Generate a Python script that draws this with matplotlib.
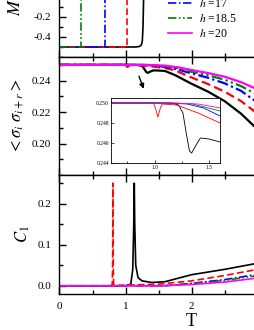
import numpy as np
import matplotlib
matplotlib.use('Agg')
import matplotlib.pyplot as plt
from matplotlib.ticker import MultipleLocator

plt.rcParams['font.family'] = ['Liberation Serif', 'DejaVu Serif']
plt.rcParams['mathtext.fontset'] = 'stix'

# ---- data ----
labels = ['$h$ =15', '$h$ =16', '$h$ =17', '$h$ =18.5', '$h$ =20']
colors = ['black', 'red', 'blue', 'green', 'magenta']
styles = ['-', (0, (4, 2)), (0, (5, 1.5, 1, 1.5)), (0, (5, 1.5, 1, 1.5, 1, 1.5)), '-']

# magnetisation M(T)
m_t = [[0, 1.15, 1.21, 1.24, 1.255, 1.265, 1.275, 1.3, 3.0],
       [0, 1.02, 1.02, 3.0],
       [0, 0.69, 0.69, 3.0],
       [0, 0.326, 0.326, 3.0],
       [0, 3.0]]
m_v = [[-0.5, -0.5, -0.495, -0.48, -0.44, -0.3, 0.0, 0.45, 0.45],
       [-0.5, -0.5, 0.5, 0.5],
       [-0.5, -0.5, 0.5, 0.5],
       [-0.5, -0.5, 0.5, 0.5],
       [0.5, 0.5]]

# nearest-neighbour correlation <s_i s_i+r>
c_t = [[0, 1.15, 1.22, 1.26, 1.29, 1.32, 1.34, 1.37, 1.42, 1.5, 1.6, 1.75, 2.0, 2.25, 2.5, 2.75, 3.0],
       [0, 0.99, 1.01, 1.03, 1.05, 1.07, 1.2, 1.4, 1.6, 1.75, 2.0, 2.25, 2.5, 2.75, 3.0],
       [0, 1.1, 1.3, 1.45, 1.6, 1.8, 2.0, 2.25, 2.5, 2.75, 3.0],
       [0, 1.15, 1.35, 1.6, 1.8, 2.0, 2.25, 2.5, 2.75, 3.0],
       [0, 1.2, 1.4, 1.6, 1.8, 2.0, 2.25, 2.5, 2.75, 3.0]]
c_v = [[0.25, 0.25, 0.2498, 0.2490, 0.2470, 0.2452, 0.2450, 0.2456, 0.2465, 0.2464, 0.2461, 0.2435, 0.2380, 0.2330, 0.2270, 0.2190, 0.2090],
       [0.25, 0.25, 0.2494, 0.2486, 0.2494, 0.2499, 0.2498, 0.2490, 0.2480, 0.2465, 0.2420, 0.2378, 0.2330, 0.2270, 0.2190],
       [0.25, 0.25, 0.2499, 0.2495, 0.2487, 0.2470, 0.2446, 0.2418, 0.2383, 0.2335, 0.2260],
       [0.25, 0.25, 0.2499, 0.2492, 0.2478, 0.2456, 0.2434, 0.2406, 0.2365, 0.2310],
       [0.25, 0.25, 0.2499, 0.2495, 0.2484, 0.2467, 0.2448, 0.2425, 0.2390, 0.2344]]

# specific heat C_1(T)
h_t = [[0, 1.0, 1.08, 1.11, 1.125, 1.133, 1.14, 1.155, 1.19, 1.25, 1.4, 1.6, 2.0, 2.5, 3.0],
       [0, 0.78, 0.80, 0.805, 0.81, 0.815, 0.82, 0.85, 1.5, 2.0, 2.5, 3.0],
       [0, 1.6, 2.0, 2.5, 3.0],
       [0, 1.6, 2.0, 2.5, 3.0],
       [0, 1.5, 2.0, 2.5, 3.0]]
h_v = [[0, 0, 0.004, 0.04, 0.15, 0.25, 0.15, 0.05, 0.02, 0.012, 0.008, 0.010, 0.027, 0.040, 0.055],
       [0, 0, 0.004, 0.05, 0.25, 0.05, 0.004, 0.001, 0.004, 0.012, 0.025, 0.040],
       [0, 0, 0.006, 0.015, 0.028],
       [0, 0, 0.005, 0.013, 0.025],
       [0, 0, 0.003, 0.009, 0.019]]

W, H = 255, 330
fig = plt.figure(figsize=(W / 100, H / 100), dpi=100)

def box(left, top, right, bottom):
    return [left / W, 1 - bottom / H, (right - left) / W, (bottom - top) / H]

ax1 = fig.add_axes(box(59.5, -43, 323.5, 57))
ax2 = fig.add_axes(box(59.5, 57, 323.5, 175))
ax3 = fig.add_axes(box(59.5, 175, 323.5, 294))

for i in range(5):
    ax1.plot(m_t[i], m_v[i], color=colors[i], ls=styles[i], lw=1.2, label=labels[i])
    ax2.plot(c_t[i], c_v[i], color=colors[i], ls=styles[i], lw=1.6)
    ax3.plot(h_t[i], h_v[i], color=colors[i], ls=styles[i], lw=1.2)

ax1.set_ylim(-0.6, 0.4)
ax1.set_yticks([-0.4, -0.2, 0.0, 0.2])
ax1.yaxis.set_minor_locator(MultipleLocator(0.1))
ax1.set_ylabel('$M$', fontsize=13, labelpad=7)
ax1.legend(loc='lower left', bbox_to_anchor=(168 / W, 1 - 40 / H), bbox_transform=fig.transFigure,
           frameon=False, fontsize=8.5, handlelength=2.0, handletextpad=0.6,
           labelspacing=0.25, borderpad=0, borderaxespad=0)

ax2.set_ylim(0.18, 0.255)
ax2.set_yticks([0.20, 0.22, 0.24])
ax2.yaxis.set_minor_locator(MultipleLocator(0.01))
ax2.set_ylabel(r'$<\sigma_i\ \sigma_{i+r}>$', fontsize=12)
ax2.annotate('', xy=(1.29, 0.2331), xytext=(1.19, 0.2444),
             arrowprops=dict(arrowstyle='-|>', color='black', lw=1.0, mutation_scale=7))

ax3.set_ylim(-0.02, 0.27)
ax3.set_yticks([0.0, 0.1, 0.2])
ax3.yaxis.set_minor_locator(MultipleLocator(0.05))
ax3.set_ylabel('$C_1$', fontsize=12)
ax3.set_xlabel('T', fontsize=13, labelpad=1)

for ax in (ax1, ax2, ax3):
    ax.set_xlim(0, 4)
    ax.set_xticks([0, 1, 2, 3, 4])
    ax.xaxis.set_minor_locator(MultipleLocator(0.5))
    ax.tick_params(which='both', direction='in', top=True, right=True, labelsize=8, pad=6, width=1.0)
    ax.tick_params(which='major', length=5)
    ax.tick_params(which='minor', length=3)
    for s in ax.spines.values():
        s.set_linewidth(1.0)
    if ax is not ax3:
        ax.tick_params(labelbottom=False)
ax1.yaxis.set_major_formatter(matplotlib.ticker.FormatStrFormatter('%.1f'))
ax2.yaxis.set_major_formatter(matplotlib.ticker.FormatStrFormatter('%.2f'))
ax3.yaxis.set_major_formatter(matplotlib.ticker.FormatStrFormatter('%.1f'))

# inset
axi = fig.add_axes(box(111, 98, 220, 163))
for i in range(5):
    axi.plot(c_t[i], c_v[i], color=colors[i], lw=0.6)
axi.set_xlim(0.6, 1.6)
axi.set_ylim(0.244, 0.2505)
axi.set_xticks([1.0, 1.5])
axi.xaxis.set_minor_locator(MultipleLocator(0.25))
axi.set_yticks([0.244, 0.246, 0.248, 0.250])
axi.yaxis.set_major_formatter(matplotlib.ticker.FormatStrFormatter('%.3f'))
axi.tick_params(which='both', direction='in', labelsize=4, pad=1.5, width=0.5)
axi.tick_params(which='major', length=2)
axi.tick_params(which='minor', length=1.5)
for s in axi.spines.values():
    s.set_linewidth(0.6)

fig.savefig('out.png', dpi=100)
